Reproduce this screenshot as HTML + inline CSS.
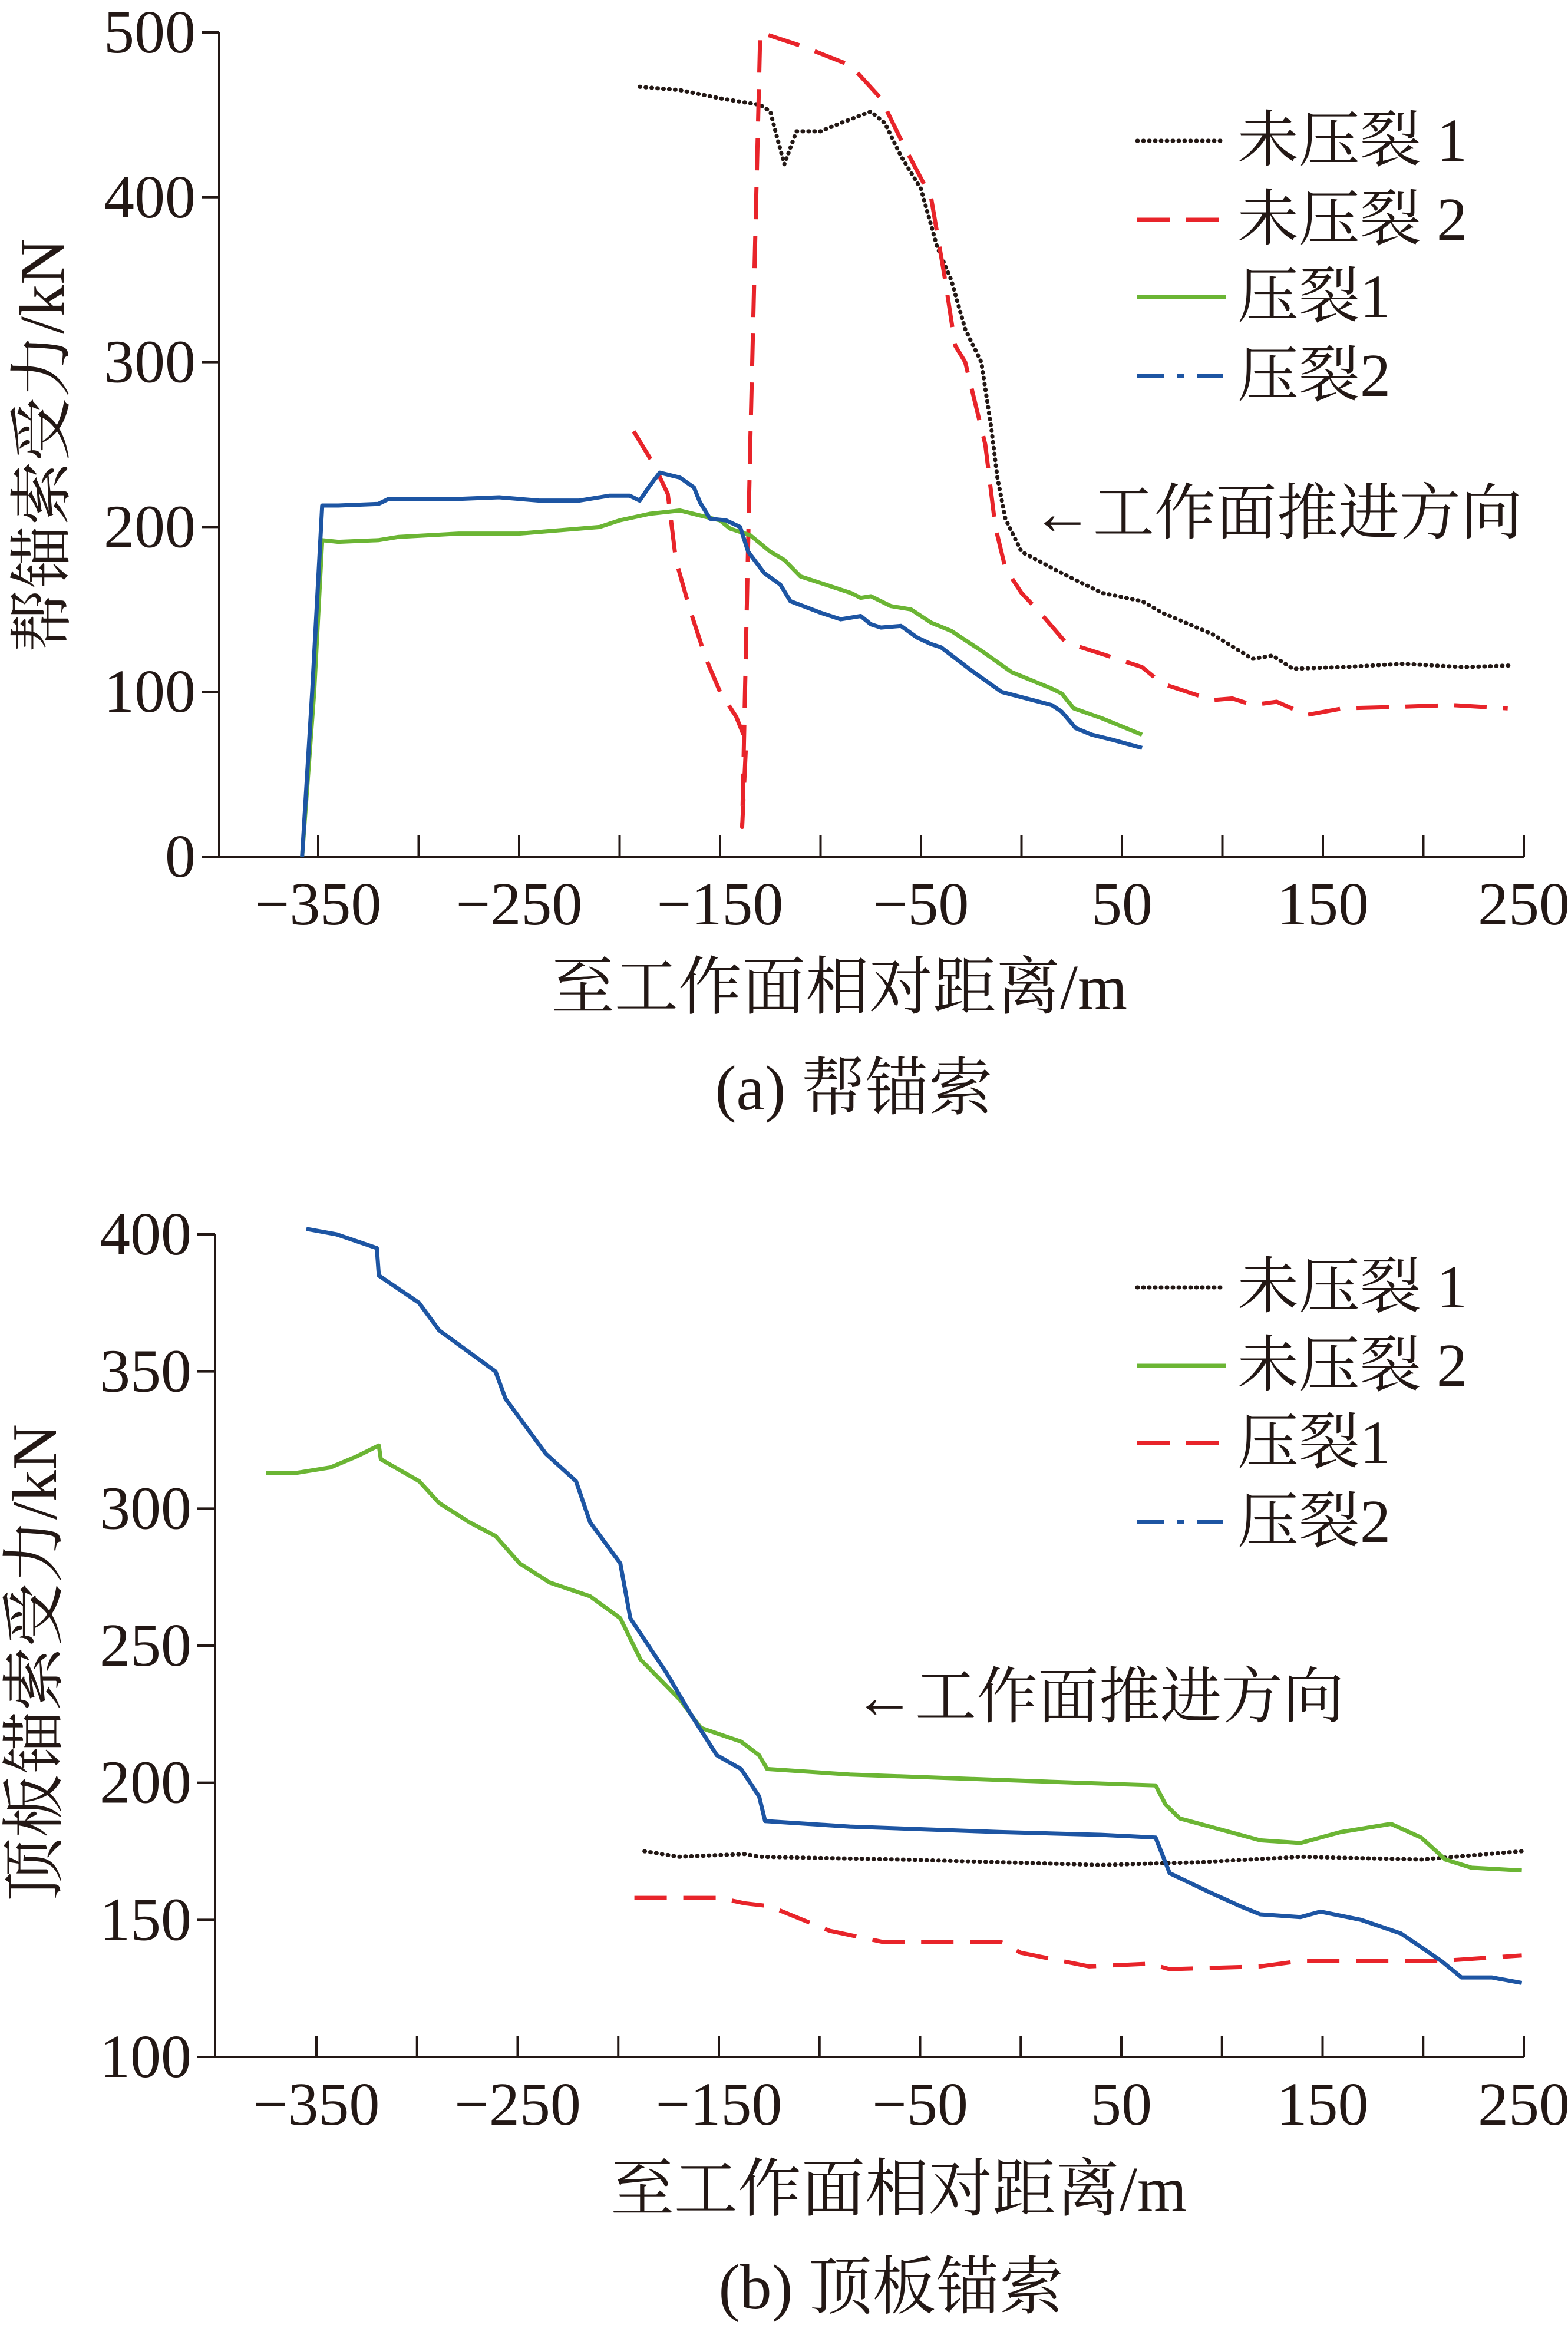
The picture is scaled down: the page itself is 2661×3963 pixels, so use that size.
<!DOCTYPE html>
<html><head><meta charset="utf-8"><style>
html,body{margin:0;padding:0;background:#fff}
svg{display:block}
text{font-family:"Liberation Serif","Noto Serif CJK SC","Noto Sans CJK SC",serif;fill:#231815}
</style></head><body>
<svg id="fig" width="2661" height="3963" viewBox="0 0 2661 3963" xmlns="http://www.w3.org/2000/svg">
<g id="chartA"></g>
<g id="chartB"></g>
</svg>
<script>
// ---- Chart A data (帮锚索) ----
const aXTicks = [-350,-250,-150,-50,50,150,250];
const aYTicks = [0,100,200,300,400,500];
const aBlack = [[-190,467],[-170,465],[-150,460],[-130,456],[-125,452],[-122,438],[-118,420],[-112,440],[-100,440],[-90,445],[-75,452],[-68,445],[-60,425],[-50,405],[-42,370],[-35,350],[-28,320],[-20,300],[-15,260],[-12,230],[-8,205],[0,185],[20,172],[40,160],[60,155],[70,148],[95,135],[115,120],[125,122],[135,114],[160,115],[190,117],[220,115],[244,116]];
const aRed = [[-193,258],[-183,238],[-176,220],[-174,200],[-172,180],[-165,150],[-157,120],[-150,100],[-142,85],[-137,70],[-139,18],[-135,250],[-130,500],[-110,492],[-85,480],[-70,460],[-58,430],[-45,400],[-38,350],[-33,310],[-28,300],[-18,250],[-13,200],[-8,175],[0,160],[10,147],[22,130],[40,123],[60,115],[70,105],[95,95],[105,96],[115,92],[127,94],[142,86],[160,90],[190,91],[214,92],[242,90]];
const aGreen = [[-358,0],[-352,100],[-348,192],[-340,191],[-320,192],[-310,194],[-280,196],[-250,196],[-230,198],[-210,200],[-200,204],[-185,208],[-170,210],[-160,207],[-150,204],[-145,199],[-135,195],[-125,185],[-118,180],[-110,170],[-95,164],[-85,160],[-80,157],[-75,158],[-65,152],[-55,150],[-45,142],[-35,137],[-20,125],[-5,112],[15,102],[20,99],[26,90],[40,84],[60,74]];
const aBlue = [[-358,0],[-353,100],[-348,213],[-340,213],[-320,214],[-315,217],[-280,217],[-260,218],[-240,216],[-220,216],[-205,219],[-195,219],[-190,216],[-185,225],[-180,233],[-170,230],[-163,224],[-160,215],[-155,205],[-147,204],[-140,200],[-136,185],[-128,172],[-120,165],[-115,155],[-100,148],[-90,144],[-80,146],[-75,141],[-70,139],[-60,140],[-52,133],[-45,129],[-40,127],[-25,113],[-10,100],[15,92],[20,88],[27,78],[35,74],[45,71],[60,66]];
// ---- Chart B data (顶板锚索) ----
const bXTicks = [-350,-250,-150,-50,50,150,250];
const bYTicks = [100,150,200,250,300,350,400];
const bBlack = [[-187,175],[-170,173],[-137,174],[-130,173],[-60,172],[-10,171],[40,170],[89,171],[139,173],[199,172],[249,175]];
const bGreen = [[-375,313],[-360,313],[-343,315],[-330,319],[-319,323],[-318,318],[-299,310],[-289,302],[-274,295],[-261,290],[-249,280],[-234,273],[-214,268],[-199,260],[-189,245],[-169,230],[-159,220],[-139,215],[-130,210],[-126,205],[-85,203],[-10,201],[67,199],[72,192],[79,187],[99,183],[119,179],[139,178],[159,182],[184,185],[199,180],[211,172],[224,169],[249,168]];
const bRed = [[-192,158],[-150,158],[-137,156],[-125,155],[-95,146],[-69,142],[-10,142],[0,138],[34,133],[64,134],[74,132],[119,133],[139,135],[209,135],[249,137]];
const bBlue = [[-355,402],[-340,400],[-320,395],[-319,385],[-299,375],[-289,365],[-261,350],[-256,340],[-236,320],[-221,310],[-214,295],[-199,280],[-194,260],[-176,240],[-164,225],[-151,210],[-139,205],[-130,195],[-127,186],[-85,184],[-10,182],[40,181],[67,180],[74,167],[94,160],[109,155],[119,152],[139,151],[149,153],[169,150],[189,145],[209,135],[219,129],[234,129],[249,127]];

const NS='http://www.w3.org/2000/svg';
function mk(parent, tag, attrs){const e=document.createElementNS(NS,tag);for(const k in attrs)e.setAttribute(k,attrs[k]);parent.appendChild(e);return e;}

function drawChart(g, cfg){
  const sx=v=>cfg.x0+(v-cfg.xmin)*(cfg.x1-cfg.x0)/(cfg.xmax-cfg.xmin);
  const sy=v=>cfg.y0+(v-cfg.ymin)*(cfg.y1-cfg.y0)/(cfg.ymax-cfg.ymin);
  const ax=mk(g,'path',{d:`M${cfg.axL},${cfg.y1} L${cfg.axL},${cfg.y0} L${cfg.x1},${cfg.y0}`,stroke:'#231815','stroke-width':4,fill:'none'});
  
  
  cfg.xt.forEach(t=>{
    const l=mk(g,'line',{x1:sx(t),x2:sx(t),y1:cfg.y0,y2:cfg.y0-36,stroke:'#231815','stroke-width':4});
    
    
    const tx=mk(g,'text',{x:sx(t),y:cfg.y0+115,'font-size':104,'text-anchor':'middle'});
    tx.textContent=(t<0?'\u2212'+(-t):String(t));
    
    
  });
  // extra inner ticks between labels
  cfg.xt.slice(0,-1).forEach((t,i)=>{
    const m=(t+cfg.xt[i+1])/2;
    const l=mk(g,'line',{x1:sx(m),x2:sx(m),y1:cfg.y0,y2:cfg.y0-36,stroke:'#231815','stroke-width':4});
    
    
  });
  cfg.yt.forEach(t=>{
    const l=mk(g,'line',{x1:cfg.axL-30,x2:cfg.axL,y1:sy(t),y2:sy(t),stroke:'#231815','stroke-width':4});
    
    
    const tx=mk(g,'text',{x:cfg.axL-40,y:sy(t)+34,'font-size':104,'text-anchor':'end'});
    tx.textContent=String(t);
    
    
  });
  cfg.series.forEach(s=>{
    const d=s.data.map((p,i)=>(i?'L':'M')+sx(p[0]).toFixed(1)+','+sy(p[1]).toFixed(1)).join(' ');
    const p=mk(g,'path',{d:d,stroke:s.color,'stroke-width':7,fill:'none','stroke-dasharray':s.dash,'stroke-linecap':s.cap||'butt','stroke-linejoin':'round'});
    
    
  });
}
const BLK='#231815',RED='#e8242a',GRN='#6bb534',BLU='#1d55a3';
drawChart(document.getElementById('chartA'),{x0:540,x1:2586,xmin:-350,xmax:250,axL:372,y0:1454,y1:55,ymin:0,ymax:500,xt:aXTicks,yt:aYTicks,
  series:[
    {name:'series-uncracked-1',data:aBlack,color:BLK,dash:'1,9',cap:'round'},
    {name:'series-uncracked-2',data:aRed,color:RED,dash:'55,28'},
    {name:'series-cracked-1',data:aGreen,color:GRN,dash:'none'},
    {name:'series-cracked-2',data:aBlue,color:BLU,dash:'none'}]});
drawChart(document.getElementById('chartB'),{x0:537,x1:2586,xmin:-350,xmax:250,axL:365,y0:3491,y1:2095,ymin:100,ymax:400,xt:bXTicks,yt:bYTicks,
  series:[
    {name:'series-uncracked-1',data:bBlack,color:BLK,dash:'1,9',cap:'round'},
    {name:'series-uncracked-2',data:bGreen,color:GRN,dash:'none'},
    {name:'series-cracked-1',data:bRed,color:RED,dash:'55,28'},
    {name:'series-cracked-2',data:bBlue,color:BLU,dash:'none'}]});
</script>
<svg style="position:absolute;left:0;top:0" width="2661" height="3963" xmlns="http://www.w3.org/2000/svg">
<!-- Chart A text -->
<text transform="translate(108,756) rotate(-90)" font-size="108" text-anchor="middle">帮锚索受力/kN</text>
<text x="1424" y="1712" font-size="108" text-anchor="middle">至工作面相对距离/m</text>
<text x="1449" y="1883" font-size="108" text-anchor="middle">(a) 帮锚索</text>
<g font-size="104">
 <g><line x1="1930" x2="2080" y1="239" y2="239" stroke="#231815" stroke-width="7" stroke-dasharray="1,9" stroke-linecap="round"/><text x="2100" y="273">未压裂 1</text></g>
 <g><line x1="1930" x2="2080" y1="373" y2="373" stroke="#e8242a" stroke-width="7" stroke-dasharray="55,28"/><text x="2100" y="407">未压裂 2</text></g>
 <g><line x1="1930" x2="2080" y1="504" y2="504" stroke="#6bb534" stroke-width="7"/><text x="2100" y="538">压裂1</text></g>
 <g><line x1="1930" x2="2080" y1="638" y2="638" stroke="#1d55a3" stroke-width="7" stroke-dasharray="45,22,12,22"/><text x="2100" y="672">压裂2</text></g>
</g>
<text x="1751" y="906" font-size="104">←工作面推进方向</text>
<!-- Chart B text -->
<text transform="translate(95,2822) rotate(-90)" font-size="108" text-anchor="middle">顶板锚索受力/kN</text>
<text x="1525" y="3752" font-size="108" text-anchor="middle">至工作面相对距离/m</text>
<text x="1512" y="3918" font-size="108" text-anchor="middle">(b) 顶板锚索</text>
<g font-size="104">
 <g><line x1="1930" x2="2080" y1="2185" y2="2185" stroke="#231815" stroke-width="7" stroke-dasharray="1,9" stroke-linecap="round"/><text x="2100" y="2219">未压裂 1</text></g>
 <g><line x1="1930" x2="2080" y1="2318" y2="2318" stroke="#6bb534" stroke-width="7"/><text x="2100" y="2352">未压裂 2</text></g>
 <g><line x1="1930" x2="2080" y1="2449" y2="2449" stroke="#e8242a" stroke-width="7" stroke-dasharray="55,28"/><text x="2100" y="2483">压裂1</text></g>
 <g><line x1="1930" x2="2080" y1="2583" y2="2583" stroke="#1d55a3" stroke-width="7" stroke-dasharray="45,22,12,22"/><text x="2100" y="2617">压裂2</text></g>
</g>
<text x="1449" y="2915" font-size="104">←工作面推进方向</text>
</svg>
</body></html>
